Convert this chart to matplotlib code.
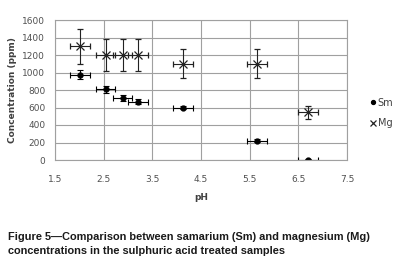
import matplotlib.pyplot as plt

# pH values (shared by both series)
ph = [2.01, 2.54, 2.89, 3.21, 4.13, 5.65, 6.70]
ph_err = [0.2, 0.2, 0.2, 0.2, 0.2, 0.2, 0.2]

sm = [975, 810, 710, 665, 600, 220, 0]
sm_err = [50, 40, 30, 30, 20, 15, 10]

mg = [1300, 1200, 1200, 1200, 1100, 1100, 545]
mg_err = [200, 180, 180, 180, 165, 165, 75]

caption = ("Figure 5\u2014Comparison between samarium (Sm) and magnesium (Mg)\n"
           "concentrations in the sulphuric acid treated samples")

fig = plt.figure(figsize=(3.96, 2.67), dpi=100)
ax = fig.add_axes([55 / 396, 1 - 160 / 267, 292 / 396, 140 / 267])

ax.errorbar(ph, sm, xerr=ph_err, yerr=sm_err, fmt='o', color='black',
            ms=3.5, elinewidth=0.8, capsize=2, capthick=0.8, label='Sm')
ax.errorbar(ph, mg, xerr=ph_err, yerr=mg_err, fmt='x', color='#222222',
            ms=6, mew=0.9, elinewidth=0.8, capsize=2, capthick=0.8, label='Mg')

ax.set_xlim(1.5, 7.5)
ax.set_ylim(0, 1600)
ax.set_xticks([1.5, 2.5, 3.5, 4.5, 5.5, 6.5, 7.5])
ax.set_yticks(range(0, 1601, 200))
ax.grid(True, color='#a0a0a0', linewidth=0.8)
ax.set_axisbelow(True)
for s in ax.spines.values():
    s.set_color('#a0a0a0')
    s.set_linewidth(0.8)
ax.tick_params(length=0, labelsize=6.5, labelcolor='#505050')
ax.tick_params(axis='x', pad=11)
ax.tick_params(axis='y', pad=7)

ax.set_xlabel('pH', fontsize=6.5, fontweight='bold', color='#404040', labelpad=6)
ax.set_ylabel('Concentration (ppm)', fontsize=6.5, fontweight='bold', color='#404040', labelpad=4)

handles, labels = ax.get_legend_handles_labels()
handles = [h[0] for h in handles]
fig.legend(handles, labels, loc='center left', bbox_to_anchor=(362 / 396, 1 - 113 / 267),
           frameon=False, fontsize=7, handlelength=0.5, handletextpad=0.2,
           labelspacing=1.1, markerscale=0.8, labelcolor='#404040')

fig.text(8 / 396, 1 - 244 / 267, caption, fontsize=7.9, fontweight='bold',
         family='Liberation Sans', va='center', ha='left', linespacing=1.55, color='#1a1a1a')

fig.savefig('out.png', dpi=100)
